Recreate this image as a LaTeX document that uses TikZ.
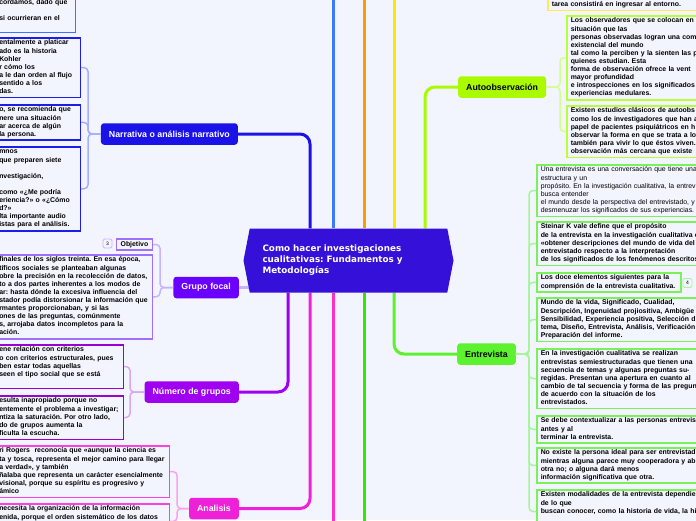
\documentclass[tikz,border=0pt]{standalone}
\usepackage{fontspec}
\setmainfont{Liberation Sans}
\newfontfamily\hubfont{DejaVu Sans}
\usetikzlibrary{positioning,shapes.symbols,backgrounds}
\frenchspacing

\definecolor{bgcol}{HTML}{F3F5FE}
\definecolor{hubcol}{HTML}{3410D8}
\definecolor{narcol}{HTML}{1A12E6}
\definecolor{skycol}{HTML}{3B7CFF}
\definecolor{orgcol}{HTML}{FF9A00}
\definecolor{yelcol}{HTML}{FFE500}
\definecolor{autcol}{HTML}{AAFA00}
\definecolor{grpcol}{HTML}{6A00FF}
\definecolor{numcol}{HTML}{A000F0}
\definecolor{anacol}{HTML}{EE20D8}
\definecolor{pnkcol}{HTML}{FF30C8}
\definecolor{grncol}{HTML}{30E800}
\definecolor{entcol}{HTML}{5CF230}
\definecolor{skybox}{HTML}{4870FF}
\definecolor{narbox}{HTML}{1C1CEB}
\definecolor{grpbox}{HTML}{9D70FF}
\definecolor{numbox}{HTML}{9A00D0}
\definecolor{anabox}{HTML}{FF40E0}
\definecolor{autbox}{HTML}{B8FF3A}
\definecolor{yelbox}{HTML}{FFEA55}
\definecolor{entbox}{HTML}{7AF05A}
\definecolor{narbrace}{HTML}{A8AEFF}
\definecolor{grpbrace}{HTML}{C6B4FF}
\definecolor{numbrace}{HTML}{DAA6F6}
\definecolor{anabrace}{HTML}{FFA0EE}
\definecolor{autbrace}{HTML}{D4FF90}
\definecolor{entbrace}{HTML}{A6F59A}

\tikzstyle{hub} = [signal, signal to=west and east, signal pointer angle=158, minimum width=210pt, minimum height=64pt, inner sep=0pt, fill=hubcol, text=white, text width=172pt, align=left, font=\hubfont\bfseries\fontsize{8.8}{11}\selectfont]
\tikzstyle{topic} = [rectangle, rounded corners=3pt, minimum height=21.5pt, inner xsep=8pt, text=white, font=\bfseries\fontsize{8.8}{10}\selectfont]
\tikzstyle{leaf} = [rectangle, draw, line width=1.5pt, fill=bgcol, inner xsep=4pt, inner ysep=1.5pt, align=left, text=black, font=\bfseries\fontsize{6.9}{8.1}\selectfont, execute at begin node=\strut, execute at end node=\strut]
\tikzstyle{badge} = [rectangle, draw, line width=0.8pt, rounded corners=1.5pt, minimum size=9pt, inner sep=0pt, font=\fontsize{5}{5}\selectfont]
\tikzstyle{spoke} = [line width=3pt, rounded corners=10pt]
\tikzstyle{brace} = [line width=1.5pt, rounded corners=4pt]

\begin{document}
\begin{tikzpicture}[x=1pt, y=-1pt]
\useasboundingbox (0,0) rectangle (696,520);
\clip (0,0) rectangle (696,520);
\begin{scope}[on background layer]
  \fill[bgcol] (0,0) rectangle (696,520);
\end{scope}

% centro
\node (hub) [hub] at (348.5,260.5) {Como hacer investigaciones\\cualitativas: Fundamentos y\\Metodologías};

% temas
\node (narr) [topic, fill=narcol, anchor=east] at (238,134) {Narrativa o análisis narrativo};
\node (grupo) [topic, fill=grpcol, anchor=east] at (239,287.5) {Grupo focal};
\node (numg) [topic, fill=numcol, anchor=east] at (239,392) {Número de grupos};
\node (anal) [topic, fill=anacol, anchor=east] at (239,508.5) {Analisis};
\node (auto) [topic, fill=autcol, text=black, anchor=west] at (458,87) {Autoobservación};
\node (entr) [topic, fill=entcol, text=black, anchor=west] at (457,354) {Entrevista};

\coordinate (skyend) at (333,-4);
\coordinate (orgend) at (364,-4);
\coordinate (yelend) at (394,-4);
\coordinate (pnkend) at (333,524);
\coordinate (grnend) at (364,524);

% hojas de la izquierda
\node (sky1) [leaf, draw=skybox, anchor=south east, text width=72pt] at (76,33) {cordamos, dado que\\\mbox{}\\si ocurrieran en el\\\mbox{}};
\node (nar1) [leaf, draw=narbox, anchor=north east, text width=77pt] at (81,37) {entalmente a platicar\\ado es la historia\\Kohler\\r cómo los\\a le dan orden al flujo\\sentido a los\\das.};
\node (nar2) [leaf, draw=narbox, anchor=north east, text width=77pt] at (81,104) {o, se recomienda que\\nere una situación\\ar acerca de algún\\la persona.};
\node (nar3) [leaf, draw=narbox, anchor=north east, text width=77pt] at (81,146) {mnos\\que preparen siete\\\mbox{}\\nvestigación,\\\mbox{}\\como «¿Me podría\\eriencia?» o «¿Cómo\\d?»\\lta importante audio\\istas para el análisis.};

\node (obj) [leaf, draw=grpbox, anchor=east] at (153,244.5) {Objetivo};
\node (bad3) [badge, draw=grpbrace] at (107.5,243.5) {3};
\node (grp1) [leaf, draw=grpbox, anchor=north east, text width=149pt] at (153,254) {finales de los siglos treinta. En esa época,\\tíficos sociales se planteaban algunas\\obre la precisión en la recolección de datos,\\to a dos partes inherentes a los modos de\\ar: hasta dónde la excesiva influencia del\\stador podía distorsionar la información que\\rmantes proporcionaban, y si las\\ones de las preguntas, comúnmente\\s, arrojaba datos incompletos para la\\ación.};

\node (num1) [leaf, draw=numbox, anchor=north east, text width=120pt] at (124,344) {ene relación con criterios\\o con criterios estructurales, pues\\ben estar todas aquellas\\seen el tipo social que se está\\\mbox{}};
\node (num2) [leaf, draw=numbox, anchor=north east, text width=120pt] at (124,395) {esulta inapropiado porque no\\entemente el problema a investigar;\\ntiza la saturación. Por otro lado,\\do de grupos aumenta la\\ficulta la escucha.};

\node (ana1) [leaf, draw=anabox, anchor=north east, text width=166pt] at (170,445) {ri Rogers\ \ reconocía que «aunque la ciencia es\\ta y tosca, representa el mejor camino para llegar\\a verdad», y también\\ñalaba que representa un carácter esencialmente\\visional, porque su espíritu es progresivo y\\ámico};
\node (ana2) [leaf, draw=anabox, anchor=north east, text width=166pt] at (170,503) {necesita la organización de la información\\enida, porque el orden sistemático de los datos\\\mbox{}\\\mbox{}};

% hojas de la derecha
\node (yel1) [leaf, draw=yelbox, anchor=south west, text width=200pt] at (547,11) {tarea consistirá en ingresar al entorno.};
\node (aut1) [leaf, draw=autbox, anchor=north west, text width=200pt] at (566,15) {Los observadores que se colocan en\\situación que las\\personas observadas logran una com\\existencial del mundo\\tal como la perciben y la sienten las p\\quienes estudian. Esta\\forma de observación ofrece la vent\\mayor profundidad\\e introspecciones en los significados\\experiencias medulares.};
\node (aut2) [leaf, draw=autbox, anchor=north west, text width=200pt] at (566,105) {Existen estudios clásicos de autoobs\\como los de investigadores que han a\\papel de pacientes psiquiátricos en h\\observar la forma en que se trata a lo\\también para vivir lo que éstos viven.\\observación más cercana que existe};

\node (ent1) [leaf, draw=entbox, anchor=north west, text width=200pt, font=\fontsize{6.9}{8.1}\selectfont] at (536,164) {Una entrevista es una conversación que tiene una\\estructura y un\\propósito. En la investigación cualitativa, la entrev\\busca entender\\el mundo desde la perspectiva del entrevistado, y\\desmenuzar los significados de sus experiencias.};
\node (ent2) [leaf, draw=entbox, anchor=north west, text width=200pt] at (536,221) {Steinar K vale define que el propósito\\de la entrevista en la investigación cualitativa e\\«obtener descripciones del mundo de vida del\\entrevistado respecto a la interpretación\\de los significados de los fenómenos descritos};
\node (ent3) [leaf, draw=entbox, anchor=north west, text width=136pt] at (536,272) {Los doce elementos siguientes para la\\comprensión de la entrevista cualitativa.};
\node (bad4) [badge, draw=entbrace] at (687.5,283) {4};
\node (ent4) [leaf, draw=entbox, anchor=north west, text width=200pt] at (536,297) {Mundo de la vida, Significado, Cualidad,\\Descripción, Ingenuidad projiositiva, Ambigüe\\Sensibilidad, Experiencia positiva, Selección d\\tema, Diseño, Entrevista, Análisis, Verificación\\Preparación del informe.};
\node (ent5) [leaf, draw=entbox, anchor=north west, text width=200pt] at (536,348) {En la investigación cualitativa se realizan\\entrevistas semiestructuradas que tienen una\\secuencia de temas y algunas preguntas su-\\regidas. Presentan una apertura en cuanto al\\cambio de tal secuencia y forma de las pregun\\de acuerdo con la situación de los\\entrevistados.};
\node (ent6) [leaf, draw=entbox, anchor=north west, text width=200pt] at (536,415) {Se debe contextualizar a las personas entrevis\\antes y al\\terminar la entrevista.};
\node (ent7) [leaf, draw=entbox, anchor=north west, text width=200pt] at (536,447) {No existe la persona ideal para ser entrevistad\\mientras alguna parece muy cooperadora y ab\\otra no; o alguna dará menos\\información significativa que otra.};
\node (ent8) [leaf, draw=entbox, anchor=north west, text width=200pt] at (536,489) {Existen modalidades de la entrevista dependie\\de lo que\\buscan conocer, como la historia de vida, la hi\\\mbox{}\\\mbox{}};

% llaves
\foreach \c in {nar1,nar2,nar3}
  \draw[brace, narbrace] (narr.west) -| ([xshift=7pt]\c.east) -- (\c.east);
\foreach \c in {obj,grp1}
  \draw[brace, grpbrace] (grupo.west) -| ([xshift=7pt]\c.east) -- (\c.east);
\foreach \c in {num1,num2}
  \draw[brace, numbrace] (numg.west) -| ([xshift=6pt]\c.east) -- (\c.east);
\foreach \c in {ana1,ana2}
  \draw[brace, anabrace] (anal.west) -| ([xshift=7pt]\c.east) -- (\c.east);
\foreach \c in {aut1,aut2}
  \draw[brace, autbrace] (auto.east) -| ([xshift=-6pt]\c.west) -- (\c.west);
\foreach \c in {ent1,ent2,ent3,ent4,ent5,ent6,ent7,ent8}
  \draw[brace, entbrace] (entr.east) -| ([xshift=-7pt]\c.west) -- (\c.west);

% ramas
\begin{scope}[on background layer]
  \draw[spoke, narcol] ([xshift=-38.5pt]hub.north) |- (narr.east);
  \draw[spoke, skycol] ([xshift=-15.5pt]hub.north) -- (skyend);
  \draw[spoke, orgcol] ([xshift=15.5pt]hub.north) -- (orgend);
  \draw[spoke, yelcol] ([xshift=45.5pt]hub.north) -- (yelend);
  \draw[spoke, autcol] ([xshift=76.5pt]hub.north) |- (auto.west);
  \draw[spoke, numcol] ([xshift=-60.5pt]hub.south) |- (numg.east);
  \draw[spoke, anacol] ([xshift=-38.5pt]hub.south) |- (anal.east);
  \draw[spoke, pnkcol] ([xshift=-15.5pt]hub.south) -- (pnkend);
  \draw[spoke, grncol] ([xshift=15.5pt]hub.south) -- (grnend);
  \draw[spoke, entcol] ([xshift=45.5pt]hub.south) |- (entr.west);
  \draw[line width=2.5pt, grpbrace] (grupo.east) -- ([xshift=12pt]grupo.east -| hub.west);
\end{scope}
\end{tikzpicture}
\end{document}
